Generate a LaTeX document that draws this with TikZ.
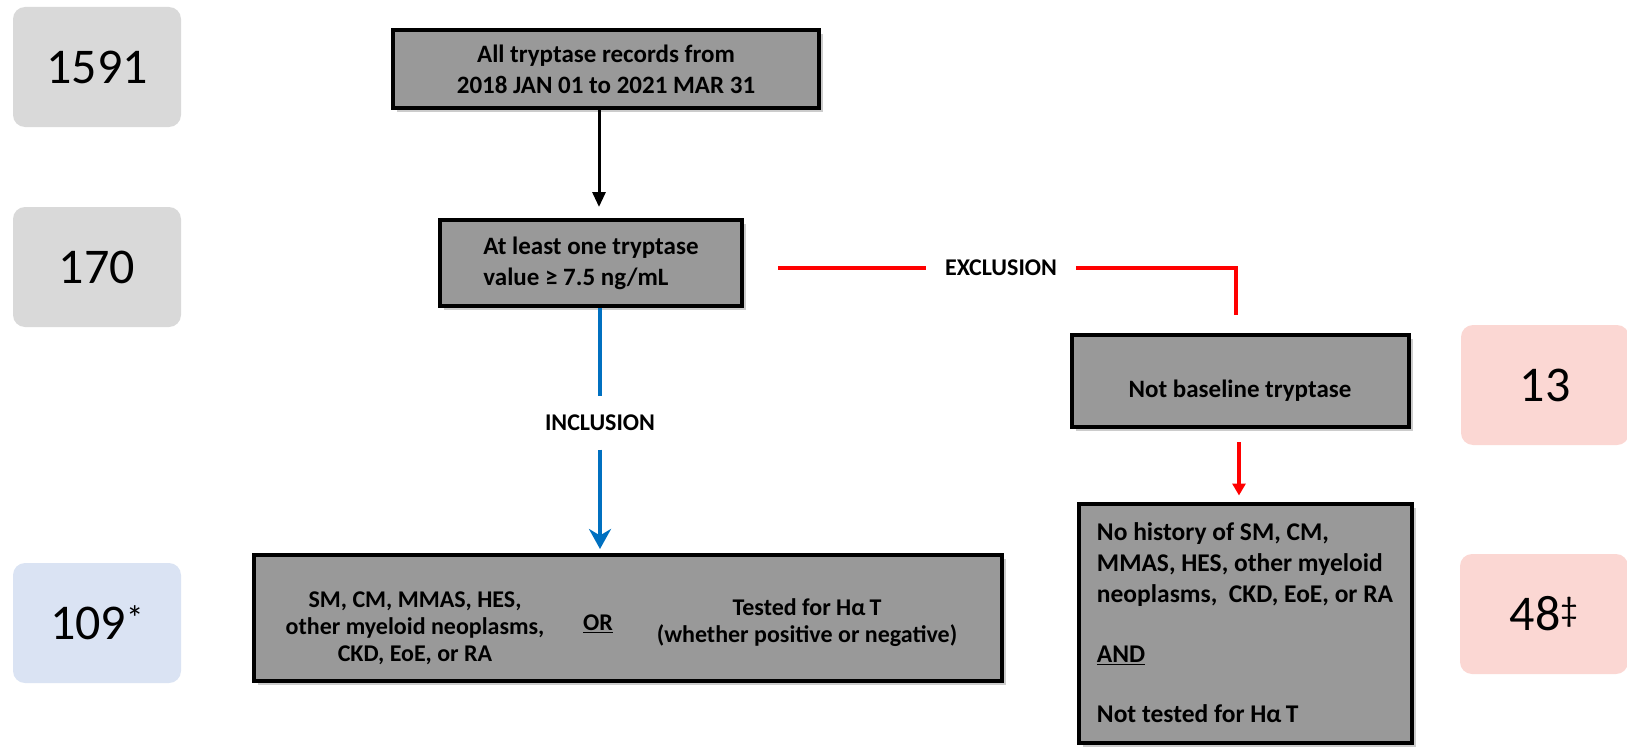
\documentclass[tikz,border=0pt]{standalone}
\usepackage{fontspec}
\setmainfont{Carlito}
\usetikzlibrary{arrows.meta, shadows, positioning}
\definecolor{boxgray}{RGB}{153,153,153}
\definecolor{countgray}{RGB}{217,217,217}
\definecolor{countblue}{RGB}{218,227,243}
\definecolor{countpink}{RGB}{251,215,211}
\definecolor{inclblue}{RGB}{0,112,192}
\tikzset{
    x=1pt, y=-1pt, % pixel-like coordinates, y grows downwards
    flowbox/.style={draw, line width=4pt, fill=boxgray, inner sep=0pt, align=center,
        font=\fontsize{25}{31}\selectfont\bfseries,
        drop shadow={shadow xshift=4pt, shadow yshift=-4pt, opacity=0.4}}, % grey step boxes
    boxtext/.style={inner sep=0pt, align=center, font=\fontsize{24}{27}\selectfont\bfseries}, % text inside the wide box
    countbox/.style={rounded corners=12pt, minimum width=168pt, minimum height=120pt, inner sep=0pt,
        font=\fontsize{50}{60}\selectfont}, % number of records
    steplabel/.style={inner sep=0pt, font=\fontsize{24}{29}\selectfont\bfseries}, % INCLUSION / EXCLUSION
    blackflow/.style={draw=black, line width=3pt},
    blueflow/.style={draw=inclblue, line width=4pt},
    redflow/.style={draw=red, line width=4pt},
}
\begin{document}
\begin{tikzpicture}
\useasboundingbox (0,0) rectangle (1627,752);
\node[countbox, fill=countgray] (c1591) at (97,67) {1591};
\node[countbox, fill=countgray] (c170) at (97,267) {170};
\node[countbox, fill=countblue] (c109) at (97,623) {109\textsuperscript{*}};
\node[countbox, fill=countpink] (c13) at (1545,385) {13};
\node[countbox, fill=countpink] (c48) at (1544,614) {48\textsuperscript{‡}};
\node[flowbox, minimum width=426pt, minimum height=78pt] (all) at (606,69) {All tryptase records from\\2018 JAN 01 to 2021 MAR 31};
\node[flowbox, align=left, minimum width=302pt, minimum height=86pt] (least) at (591,263) {At least one tryptase\\value ≥ 7.5 ng/mL};
\node[flowbox, minimum width=748pt, minimum height=126pt] (incl) at (628,618) {};
\node[boxtext] (inclA) at (415,628) {SM, CM, MMAS, HES,\\other myeloid neoplasms,\\CKD, EoE, or RA};
\node[boxtext] (inclOr) at (598,624) {\underline{OR}};
\node[boxtext] (inclB) at (807,623) {Tested for Hα\,T\\(whether positive or negative)};
\node[flowbox, text height=36pt, minimum width=337pt, minimum height=92pt] (notbase) at (1240,381) {Not baseline tryptase};
\node[flowbox, align=left, font=\fontsize{25.5}{31}\selectfont\bfseries, minimum width=333pt, minimum height=239pt] (nohist) at (1245,623) {No history of SM, CM,\\MMAS, HES, other myeloid\\neoplasms,\ \ CKD, EoE, or RA\\[29pt]\underline{AND}\\[29pt]Not tested for Hα\,T};
\node[steplabel, minimum height=53pt] (inclab) at (600,423) {INCLUSION};
\node[steplabel, minimum width=150pt] (exclab) at (1001,268) {EXCLUSION};
\coordinate (excstart) at (778,268);
\draw[blackflow, -{Triangle[length=15pt,width=13pt]}, shorten >=11pt] ([xshift=-7pt]all.south) -- ([xshift=8pt]least.north);
\draw[blueflow] ([xshift=9pt]least.south) -- (inclab.north);
\draw[blueflow, -{Stealth[length=20pt,width=22pt]}, shorten >=4pt] (inclab.south) -- ([xshift=-28pt]incl.north);
\draw[redflow] (excstart) -- (exclab.west);
\draw[redflow] (exclab.east) -| ([xshift=-4pt,yshift=18pt]notbase.north);
\draw[redflow, -{Triangle[length=12pt,width=13pt]}, shorten <=13pt, shorten >=6pt] ([xshift=-1pt]notbase.south) -- ([xshift=-6pt]nohist.north);
\end{tikzpicture}
\end{document}
